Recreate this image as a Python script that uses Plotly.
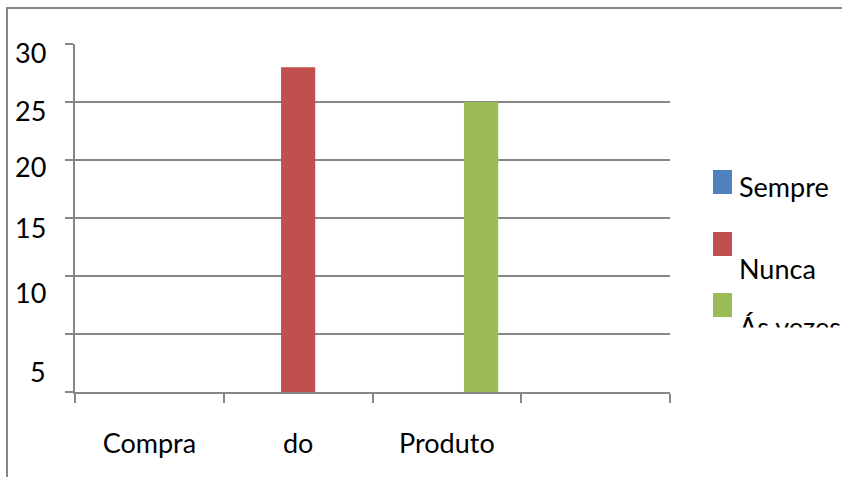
import plotly.graph_objects as go

categories = ["Compra", "do", "Produto", " "]
sempre = [0, 0, 0, 0]
nunca = [0, 28, 0, 0]
as_vezes = [0, 0, 25, 0]
series_names = ["Sempre", "Nunca", "Ás vezes"]
series_colors = ["#4F81BD", "#C0504D", "#9BBB59"]
y_ticks = [0, 5, 10, 15, 20, 25, 30]
y_tick_labels = ["", "5", "10", "15", "20", "25", "30"]
# label drift (px, downward) as rendered in the reference
y_label_shift = [0, 37, 16, 9, 6, 8, 8]

W, H = 842, 477
L, T, B = 75, 44, 85
R = W - 670
PW, PH = W - L - R, H - T - B
FONT = "Lato, 'Open Sans', sans-serif"
GRID = "#878787"
FS = 27


def px_x(px):
    return (px - L) / PW


def px_y(py):
    return (T + PH - py) / PH


fig = go.Figure()
for name, vals, col in zip(series_names, [sempre, nunca, as_vezes], series_colors):
    fig.add_trace(go.Bar(x=categories, y=vals, name=name, marker_color=col,
                         marker_line_width=0, showlegend=False))

fig.update_layout(
    width=W, height=H,
    margin=dict(l=L, r=R, t=T, b=B),
    paper_bgcolor="white", plot_bgcolor="white",
    barmode="group", bargap=0.31, bargroupgap=0,
    font=dict(family=FONT, size=FS, color="black"),
    xaxis=dict(
        type="category", showgrid=False, showline=True, linecolor=GRID, linewidth=2,
        ticks="outside", tickson="boundaries", ticklen=9, tickwidth=2, tickcolor=GRID,
        ticklabelstandoff=27, tickfont=dict(size=FS), range=[-0.5, 3.5],
    ),
    yaxis=dict(
        range=[0, 30], tickvals=y_ticks, showticklabels=False,
        showgrid=True, gridcolor=GRID, gridwidth=2,
        showline=True, linecolor=GRID, linewidth=2,
        ticks="outside", ticklen=8, tickwidth=2, tickcolor=GRID,
        zeroline=False,
    ),
)

# y tick labels
for v, lab, sh in zip(y_ticks, y_tick_labels, y_label_shift):
    if lab:
        fig.add_annotation(xref="paper", yref="y", x=px_x(48), y=v, yshift=-sh,
                           text=lab, showarrow=False, xanchor="right", yanchor="middle",
                           font=dict(size=FS))

# outer frame (left and top edges visible)
fig.add_shape(type="line", xref="paper", yref="paper", x0=px_x(7), x1=px_x(7),
              y0=px_y(8), y1=px_y(490), line=dict(color=GRID, width=2))
fig.add_shape(type="line", xref="paper", yref="paper", x0=px_x(6), x1=px_x(860),
              y0=px_y(8), y1=px_y(8), line=dict(color=GRID, width=2))

# manual legend
sq_tops = [170, 232, 293]
text_y = [186, 268, 326]
for name, col, st, ty in zip(series_names, series_colors, sq_tops, text_y):
    fig.add_shape(type="rect", xref="paper", yref="paper", x0=px_x(713), x1=px_x(732),
                  y0=px_y(st), y1=px_y(st + 24), fillcolor=col, line_width=0)
    fig.add_annotation(xref="paper", yref="paper", x=px_x(737), y=px_y(ty), text=name,
                       showarrow=False, xanchor="left", yanchor="middle",
                       font=dict(size=FS))
# the last legend entry is clipped in the reference
fig.add_annotation(xref="paper", yref="paper", x=px_x(700), y=px_y(327), text=" ",
                   showarrow=False, xanchor="left", yanchor="top", width=150, height=50,
                   bgcolor="white", borderpad=0, font=dict(size=10))

fig.write_html(
    "out.html",
    config={"displayModeBar": False},
    post_script="document.body.style.margin='0';document.body.style.overflow='hidden';",
)
